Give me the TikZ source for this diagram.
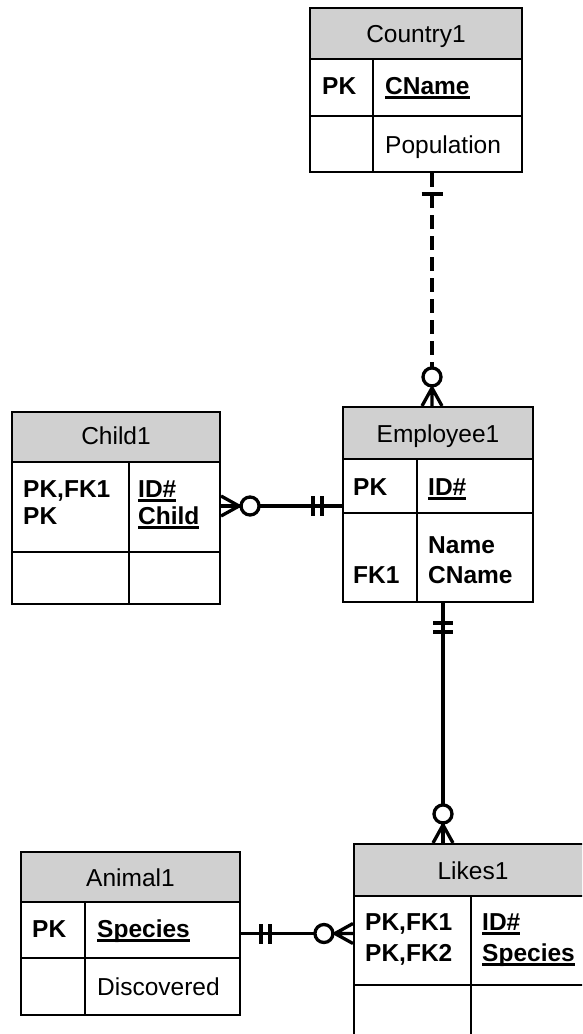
\documentclass[tikz,border=0pt]{standalone}
\usepackage{fontspec}
\setmainfont{Liberation Sans}
\usetikzlibrary{calc}

\definecolor{hdrgray}{RGB}{208,208,208}
\newcommand{\erfont}{\fontsize{24.5}{28}\selectfont}
\newcommand{\ulkey}[1]{\setbox0\hbox{#1}\rlap{\rule[-4.5pt]{\wd0}{2.2pt}}\box0}

\tikzset{
  tbl/.style={draw, line width=2.1pt, inner sep=0pt},
  hdr/.style={fill=hdrgray},
  grid/.style={line width=2.1pt},
  title/.style={anchor=base, inner sep=0pt, font=\erfont},
  txt/.style={anchor=base west, inner sep=0pt, font=\erfont},
  keytxt/.style={anchor=base west, inner sep=0pt, font=\erfont\bfseries},
  rel/.style={line width=3.3pt},
  % circle + crow's foot, box edge at the origin, box on the +x side
  zeromany/.pic={
    \draw[rel, line join=round] (0,-10) -- (-18,0) -- (0,10) (0,0) -- (-18,0);
    \draw[rel, fill=white] (-29,0) circle (9pt);
  },
  % two bars, box on the +x side
  mandone/.pic={
    \draw[rel] (-20,-10) -- (-20,10) (-29,-10) -- (-29,10);
  },
}

\begin{document}
\begin{tikzpicture}[x=1pt,y=-1pt]
  \useasboundingbox (0,0) rectangle (582,1034);
  \clip (0,0) rectangle (582,1034);

  % Country1
  \fill[hdr] (310,8) rectangle (522,59);
  \node[tbl, minimum width=212pt, minimum height=164pt] (country) at (416,90) {};
  \draw[grid] (310,59) -- (522,59) (310,116) -- (522,116) (373,59) -- (373,172);
  \node[title] (country-t) at (416,42.5) {Country1};
  \node[keytxt] (country-pk) at (322,94) {PK};
  \node[keytxt] (country-cname) at (385,94) {\ulkey{CName}};
  \node[txt] (country-pop) at (385,153.5) {Population};

  % Employee1
  \fill[hdr] (343,407) rectangle (533,459);
  \node[tbl, minimum width=190pt, minimum height=195pt] (emp) at (438,504.5) {};
  \draw[grid] (343,459) -- (533,459) (343,513) -- (533,513) (417,459) -- (417,602);
  \node[title] (emp-t) at (438,442) {Employee1};
  \node[keytxt] (emp-pk) at (353,495) {PK};
  \node[keytxt] (emp-id) at (428,495) {\ulkey{ID\#}};
  \node[keytxt] (emp-fk) at (353,583) {FK1};
  \node[keytxt] (emp-name) at (428,553) {Name};
  \node[keytxt] (emp-cname) at (428,583) {CName};

  % Child1
  \fill[hdr] (12,412) rectangle (220,462);
  \node[tbl, minimum width=208pt, minimum height=192pt] (child) at (116,508) {};
  \draw[grid] (12,462) -- (220,462) (12,552) -- (220,552) (129,462) -- (129,604);
  \node[title] (child-t) at (116,444) {Child1};
  \node[keytxt] (child-k1) at (23,497) {PK,FK1};
  \node[keytxt] (child-k2) at (23,524) {PK};
  \node[keytxt] (child-id) at (138,497) {\ulkey{ID\#}};
  \node[keytxt] (child-child) at (138,524) {\ulkey{Child}};

  % Likes1 (runs off the page on the right and at the bottom)
  \fill[hdr] (354,844) rectangle (592,896);
  \node[tbl, minimum width=238pt, minimum height=197pt] (likes) at (473,942.5) {};
  \draw[grid] (354,896) -- (592,896) (354,985) -- (592,985) (471,896) -- (471,1041);
  \node[title] (likes-t) at (473,879) {Likes1};
  \node[keytxt] (likes-k1) at (365,930) {PK,FK1};
  \node[keytxt] (likes-k2) at (365,961) {PK,FK2};
  \node[keytxt] (likes-id) at (482,930) {\ulkey{ID\#}};
  \node[keytxt] (likes-sp) at (482,961) {\ulkey{Species}};

  % Animal1
  \fill[hdr] (21,852) rectangle (240,902);
  \node[tbl, minimum width=219pt, minimum height=163pt] (animal) at (130.5,933.5) {};
  \draw[grid] (21,902) -- (240,902) (21,958) -- (240,958) (85,902) -- (85,1015);
  \node[title] (animal-t) at (130.5,886) {Animal1};
  \node[keytxt] (animal-pk) at (32,937) {PK};
  \node[keytxt] (animal-sp) at (97,937) {\ulkey{Species}};
  \node[txt] (animal-disc) at (97,995) {Discovered};

  % connector ends
  \coordinate (country-s) at ([xshift=16pt]country.south);
  \coordinate (emp-n) at (country-s |- emp.north);
  \coordinate (child-e) at ([yshift=2pt]child.east);
  \coordinate (emp-w) at (child-e -| emp.west);
  \coordinate (emp-s) at ([xshift=5pt]emp.south);
  \coordinate (likes-n) at (emp-s |- likes.north);
  \coordinate (animal-e) at (animal.east);
  \coordinate (likes-w) at (animal-e -| likes.west);

  % Country1 -- Employee1 (dashed)
  \draw[rel, dash pattern=on 14pt off 7pt] (country-s) -- ($(emp-n)+(0,-29)$);
  \draw[rel] ($(country-s)+(-10.5,21)$) -- ++(21,0);
  \pic[rotate=-90] at (emp-n) {zeromany};

  % Child1 -- Employee1
  \draw[rel] (child-e) -- (emp-w);
  \pic[rotate=180] at (child-e) {zeromany};
  \pic at (emp-w) {mandone};

  % Employee1 -- Likes1
  \draw[rel] (emp-s) -- (likes-n);
  \pic[rotate=90] at (emp-s) {mandone};
  \pic[rotate=-90] at (likes-n) {zeromany};

  % Animal1 -- Likes1
  \draw[rel] (animal-e) -- (likes-w);
  \pic[rotate=180] at (animal-e) {mandone};
  \pic at (likes-w) {zeromany};
\end{tikzpicture}
\end{document}
